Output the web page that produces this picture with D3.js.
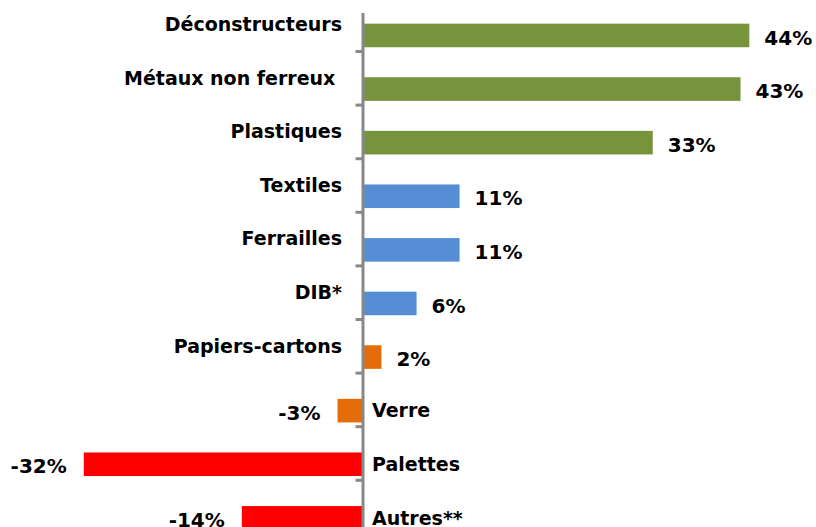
<!DOCTYPE html>
<html>
<head>
<meta charset="utf-8">
<script src="https://cdn.jsdelivr.net/npm/d3@7"></script>
<style>
    body { margin: 0; background: #fff; }
    text { font-family: "DejaVu Sans", Verdana, sans-serif; font-weight: bold; fill: #000; white-space: pre; }
</style>
</head>
<body>
<div id="chart"></div>
<script>
// évolution par filière
var categories = ["Déconstructeurs", "Métaux non ferreux ", "Plastiques", "Textiles", "Ferrailles",
    "DIB*", "Papiers-cartons", "Verre", "Palettes", "Autres**"];
var values = [44, 43, 33, 11, 11, 6.1, 2.1, -2.9, -31.8, -13.8];
var groups = ["forte", "forte", "forte", "moyenne", "moyenne", "moyenne", "faible", "faible", "baisse", "baisse"];

var o = {w: 816, h: 527, zero: 363, perUnit: 8.78, top: -2.6, band: 53.6};

var svg = d3.select("#chart").append("svg")
    .attr("width", o.w)
    .attr("height", o.h);

var x = d3.scaleLinear()
    .domain([-40, 50])
    .range([o.zero - 40 * o.perUnit, o.zero + 50 * o.perUnit]);

var y = d3.scaleBand()
    .domain(categories)
    .range([o.top, o.top + o.band * categories.length]);

var color = d3.scaleOrdinal()
    .domain(["forte", "moyenne", "faible", "baisse"])
    .range(["#77933C", "#558ED5", "#E46C0A", "#FF0000"]);

var data = categories.map(function (c, i) {
    return {name: c, value: values[i], group: groups[i]};
});

var barTop = function (d) {
    return y(d.name) + y.bandwidth() * 0.49;
};
var barH = y.bandwidth() * 0.44;

svg.selectAll("rect.bar")
    .data(data)
    .enter()
    .append("rect")
    .classed("bar", true)
    .attr("x", function (d) { return x(Math.min(0, d.value)); })
    .attr("y", barTop)
    .attr("width", function (d) { return Math.abs(x(d.value) - x(0)); })
    .attr("height", barH)
    .style("fill", function (d) { return color(d.group); });

// axe vertical
var idx = d3.scaleLinear().domain([0, categories.length]).range(y.range());
var axis = svg.append("g")
    .attr("transform", "translate(" + (x(0) - 0.5) + ",0)")
    .call(d3.axisLeft(idx).tickValues(d3.range(1, categories.length)).tickSize(7).tickFormat(""));
axis.select(".domain").remove();
axis.selectAll(".tick line").attr("stroke", "#888").attr("stroke-width", 3);
svg.append("line")
    .attr("x1", x(0)).attr("x2", x(0))
    .attr("y1", 13).attr("y2", o.h)
    .attr("stroke", "#888")
    .attr("stroke-width", 3);

// libellés des catégories
svg.selectAll("text.cat")
    .data(data)
    .enter()
    .append("text")
    .classed("cat", true)
    .attr("x", function (d) { return d.value >= 0 ? x(0) - 21 : x(0) + 9; })
    .attr("y", function (d) {
        return d.value >= 0 ? y(d.name) + y.bandwidth() / 2 : barTop(d) + barH / 2;
    })
    .attr("dy", "0.36em")
    .attr("text-anchor", function (d) { return d.value >= 0 ? "end" : "start"; })
    .style("font-size", "19px")
    .text(function (d) { return d.name; });

// valeurs
svg.selectAll("text.val")
    .data(data)
    .enter()
    .append("text")
    .classed("val", true)
    .attr("x", function (d) { return d.value >= 0 ? x(d.value) + 15 : x(d.value) - 17; })
    .attr("y", function (d) { return barTop(d) + barH / 2 + 2; })
    .attr("dy", "0.36em")
    .attr("text-anchor", function (d) { return d.value >= 0 ? "start" : "end"; })
    .style("font-size", "20px")
    .text(function (d) { return Math.round(d.value) + "%"; });
</script>
</body>
</html>
